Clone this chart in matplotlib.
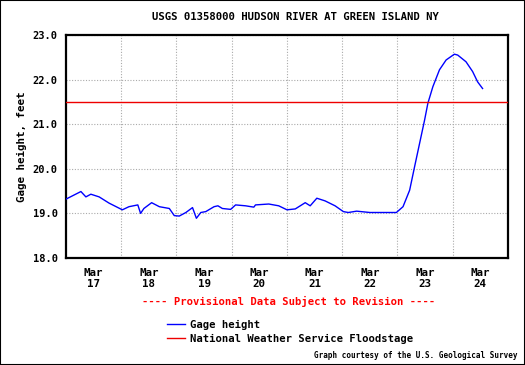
import numpy as np
import matplotlib.pyplot as plt
from matplotlib.lines import Line2D
from matplotlib.patches import Rectangle

# days since Mar 17 00:00
days = [0.00, 0.27, 0.36, 0.45, 0.60, 0.78, 1.02, 1.14, 1.30, 1.35, 1.41, 1.55,
        1.69, 1.87, 1.96, 2.05, 2.17, 2.29, 2.36, 2.44, 2.53, 2.68, 2.75, 2.83,
        2.98, 3.07, 3.25, 3.40, 3.43, 3.67, 3.85, 4.00, 4.15, 4.33, 4.42, 4.54,
        4.69, 4.87, 5.02, 5.11, 5.26, 5.50, 5.65, 5.98, 6.10, 6.22, 6.31, 6.40,
        6.49, 6.55, 6.64, 6.76, 6.88, 7.03, 7.09, 7.24, 7.36, 7.45, 7.54]
gage = [19.32, 19.49, 19.37, 19.43, 19.37, 19.23, 19.08, 19.15, 19.19, 19.00,
        19.11, 19.24, 19.15, 19.11, 18.95, 18.94, 19.02, 19.13, 18.89, 19.02,
        19.04, 19.15, 19.17, 19.11, 19.09, 19.19, 19.17, 19.14, 19.19, 19.21,
        19.17, 19.08, 19.10, 19.24, 19.17, 19.34, 19.28, 19.17, 19.04, 19.02,
        19.05, 19.02, 19.02, 19.02, 19.15, 19.52, 20.05, 20.57, 21.09, 21.47,
        21.84, 22.22, 22.44, 22.57, 22.55, 22.40, 22.18, 21.95, 21.80]
floodstage = 21.5
day_labels = ["Mar\n17", "Mar\n18", "Mar\n19", "Mar\n20",
              "Mar\n21", "Mar\n22", "Mar\n23", "Mar\n24"]

mono = {"family": "DejaVu Sans Mono", "weight": "bold"}

fig = plt.figure(figsize=(5.25, 3.65), dpi=100)
ax = fig.add_axes([0.1257, 0.2932, 0.8419, 0.6109])

ax.plot(days, gage, color="#0000ff", linewidth=1.0, label="Gage height", zorder=3)
ax.axhline(floodstage, color="#ee0000", linewidth=1.0, zorder=3)

ax.set_xlim(0, 8)
ax.set_ylim(18, 23)
ax.set_yticks(np.arange(18, 23.5, 1.0))
ax.set_yticklabels([f"{v:.1f}" for v in np.arange(18, 23.5, 1.0)], fontdict=mono, fontsize=7.5)
ax.set_xticks(np.arange(1, 8))
ax.set_xticklabels([])
ax.set_xticks(np.arange(0.5, 8, 1.0), minor=True)
ax.set_xticklabels(day_labels, minor=True, fontdict=mono, fontsize=7.8)
ax.tick_params(which="both", length=0)
ax.tick_params(axis="x", which="minor", pad=7)
ax.tick_params(axis="y", pad=6)
ax.grid(True, which="major", color="#aaaaaa", linestyle=(0, (1, 1.5)), linewidth=0.8)

for sp in ax.spines.values():
    sp.set_linewidth(1.6)

ax.set_ylabel("Gage height, feet", fontdict=mono, fontsize=7.8, labelpad=4)
ax.set_title("USGS 01358000 HUDSON RIVER AT GREEN ISLAND NY", fontdict=mono,
             fontsize=7.7, pad=11, x=0.52)

fig.text(0.55, 0.175, "---- Provisional Data Subject to Revision ----",
         color="#ff0000", ha="center", va="center", fontsize=7.6, **mono)

handles = [Line2D([], [], color="#0000ff", linewidth=1.0),
           Line2D([], [], color="#ee0000", linewidth=1.0)]
fig.legend(handles, ["Gage height", "National Weather Service Floodstage"],
           loc="upper left", bbox_to_anchor=(0.318, 0.124), frameon=False,
           prop={"family": "DejaVu Sans Mono", "weight": "bold", "size": 7.6},
           handlelength=1.7, handletextpad=0.5, labelspacing=0.4,
           borderpad=0, borderaxespad=0)

fig.text(0.985, 0.025, "Graph courtesy of the U.S. Geological Survey",
         ha="right", va="center", fontsize=5.5, **mono)

fig.patches.append(Rectangle((0, 0), 1, 1, transform=fig.transFigure,
                             fill=False, edgecolor="black", linewidth=1.5))

fig.savefig("out.png", dpi=100)
